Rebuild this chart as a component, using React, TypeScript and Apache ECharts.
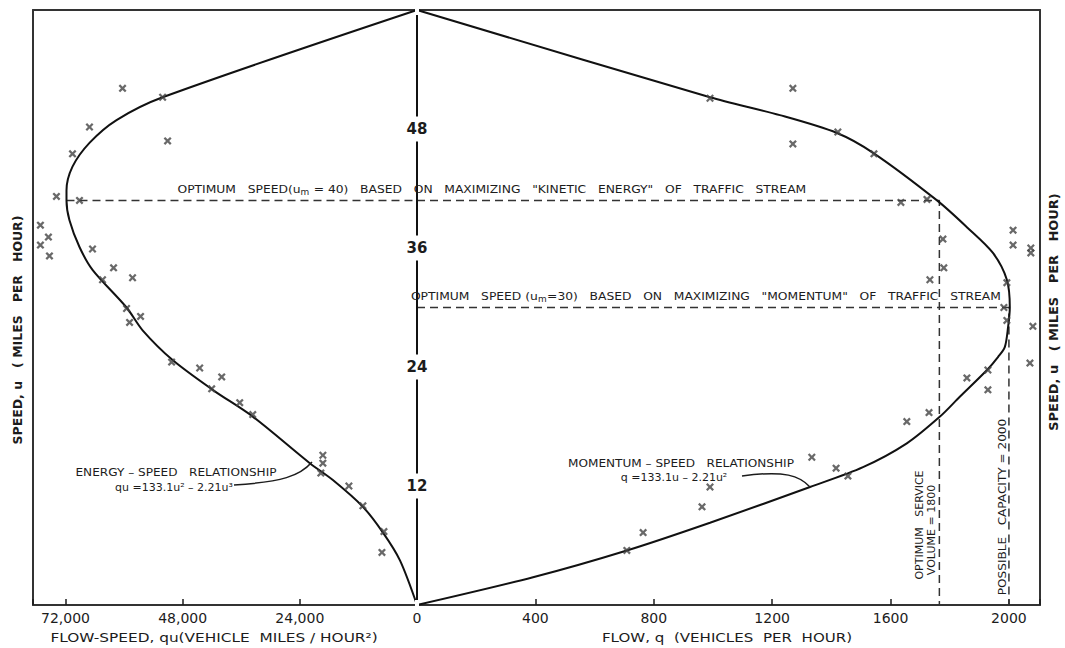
import React, { useEffect, useRef } from "react";
import * as echarts from "echarts";

// ---- data ----
// energy–speed curve: [qu, u]
const energyCurve: [number, number][] = [
  [0, 60.0], [52100, 51.2], [61540, 48.9], [67080, 46.6], [70560, 44.2], [71790, 41.8],
  [71790, 40.8], [71180, 38.8], [69130, 36.1], [66460, 33.8], [59490, 30.0], [56200, 27.7],
  [50050, 24.7], [41850, 21.7], [33640, 19.0], [21950, 14.3], [17230, 12.6], [11080, 9.9],
  [6970, 7.3], [3490, 4.5], [0, 0],
];
// momentum–speed curve: [q, u]
const momentumCurve: [number, number][] = [
  [0, 60.0], [990, 51.2], [1226, 49.4], [1419, 47.6], [1541, 45.6], [1757, 40.8],
  [1858, 38.1], [1946, 35.5], [1993, 32.8], [2003, 30.0], [1997, 28.0], [1986, 26.0],
  [1963, 25.0], [1926, 23.7], [1834, 21.0], [1767, 19.0], [1655, 16.3], [1507, 13.9], [1328, 11.9],
  [990, 8.3], [709, 5.5], [392, 2.8], [0, 0],
];
// observations, flow-speed side: [qu, u]
const energyObs: [number, number][] = [
  [60310, 52.1], [52100, 51.2], [67080, 48.2], [51080, 46.8], [70560, 45.5], [73850, 41.2],
  [69130, 40.8], [77130, 38.3], [75490, 37.1], [77130, 36.3], [75280, 35.2], [66460, 35.9],
  [62150, 34.0], [64410, 32.8], [58260, 33.0], [59490, 29.9], [56620, 29.1], [58870, 28.5],
  [50260, 24.5], [44510, 23.9], [40000, 23.0], [42050, 21.8], [36310, 20.4], [33640, 19.2],
  [19280, 15.1], [19280, 14.3], [19690, 13.3], [13950, 12.0], [11080, 10.0], [6770, 7.4],
  [7180, 5.3],
];
// observations, flow side: [q, u]
const momentumObs: [number, number][] = [
  [1270, 52.1], [990, 51.1], [1270, 46.5], [1422, 47.7], [1544, 45.5], [1635, 40.6],
  [1723, 40.9], [1777, 36.9], [1780, 34.0], [1733, 32.8], [2014, 37.8], [2014, 36.3],
  [2074, 36.0], [2074, 35.5], [1993, 32.5], [1983, 30.0], [1993, 28.7], [2081, 28.1],
  [2071, 24.4], [1929, 23.7], [1858, 22.9], [1929, 21.7], [1730, 19.4], [1655, 18.5],
  [1334, 14.9], [1416, 13.8], [1456, 13.0], [990, 11.9], [963, 9.9], [764, 7.3], [709, 5.5],
];
// optimum lines
const kineticLineLeft: [number, number][] = [[71790, 40.8], [0, 40.8]];
const kineticLineRight: [number, number][] = [[0, 40.8], [1765, 40.8], [1765, 0]];
const momentumLine: [number, number][] = [[0, 30], [2000, 30], [2000, 0]];

const quTicks = [0, 24000, 48000, 72000];
const qTicks = [400, 800, 1200, 1600, 2000];
const uTicks = [12, 24, 36, 48];

const INK = "#1c1c1c";
const FONT = "'DejaVu Sans', sans-serif";
const XMARK = "path://M2,0L5,3L8,0L10,2L7,5L10,8L8,10L5,7L2,10L0,8L3,5L0,2Z";

function txt(text: string, x: number, y: number, size: number, opts: any = {}) {
  return {
    type: "text",
    x,
    y,
    rotation: opts.rotation || 0,
    scaleX: opts.scaleX || 1,
    z: 100,
    style: {
      text,
      fill: INK,
      font: `${opts.weight || "normal"} ${size}px ${FONT}`,
      align: "center",
      verticalAlign: "middle",
      textAlign: "center",
      textVerticalAlign: "middle",
      rich: opts.rich,
    },
  };
}

export default function App() {
  const ref = useRef<HTMLDivElement>(null);
  useEffect(() => {
    if (!ref.current) return;
    const chart = echarts.init(ref.current, null, { renderer: "svg" });
    const lineAxisStyle = { show: true, onZero: false, lineStyle: { color: "#333", width: 2 } };
    const frameX = (gi: number) => ({
      gridIndex: gi, type: "value", position: "top", min: 0, max: 1,
      axisLine: lineAxisStyle, axisTick: { show: false }, axisLabel: { show: false }, splitLine: { show: false },
    });
    const richSub = (size: number) => ({
      a: { fontSize: size, fontFamily: FONT, color: INK, lineHeight: 14 },
      s: { fontSize: size - 3, fontFamily: FONT, color: INK, lineHeight: 14, verticalAlign: "bottom", padding: [5, 0, 0, 0] },
    });
    const dash = { color: "#333", width: 1.5, type: [8, 5] };
    const option: any = {
      animation: false,
      backgroundColor: "#fff",
      grid: [
        { left: 33, top: 10, width: 384, height: 595 },
        { left: 417, top: 10, width: 623, height: 595 },
      ],
      xAxis: [
        {
          gridIndex: 0, type: "value", inverse: true, min: 0, max: 78650, interval: 24000, position: "bottom",
          axisLine: lineAxisStyle,
          axisTick: { show: true, inside: true, length: 6, lineStyle: { color: INK, width: 1.5 } },
          axisLabel: {
            color: INK, fontSize: 14, fontFamily: FONT, margin: 6,
            formatter: (v: number) => (quTicks.includes(v) ? v.toLocaleString("en-US") : ""),
          },
          splitLine: { show: false },
        },
        {
          gridIndex: 1, type: "value", min: 0, max: 2105, interval: 400, position: "bottom",
          axisLine: lineAxisStyle,
          axisTick: { show: true, inside: true, length: 6, lineStyle: { color: INK, width: 1.5 } },
          axisLabel: {
            color: INK, fontSize: 14, fontFamily: FONT, margin: 6,
            formatter: (v: number) => (qTicks.includes(v) ? String(v) : ""),
          },
          splitLine: { show: false },
        },
        frameX(0),
        frameX(1),
      ],
      yAxis: [
        {
          gridIndex: 0, type: "value", min: 0, max: 60, position: "left",
          axisLine: lineAxisStyle, axisTick: { show: false }, axisLabel: { show: false }, splitLine: { show: false },
        },
        {
          gridIndex: 1, type: "value", min: 0, max: 60, interval: 12, position: "left", z: 10,
          axisLine: { show: true, onZero: false, lineStyle: { color: "#111", width: 2 } },
          axisTick: { show: false }, splitLine: { show: false },
          axisLabel: {
            color: INK, fontSize: 15, fontWeight: "bold", fontFamily: FONT, margin: 0, align: "center",
            backgroundColor: "#fff", padding: [5, 2, 5, 2],
            formatter: (v: number) => (uTicks.includes(v) ? String(v) : ""),
          },
        },
        {
          gridIndex: 1, type: "value", min: 0, max: 60, position: "right",
          axisLine: lineAxisStyle, axisTick: { show: false }, axisLabel: { show: false }, splitLine: { show: false },
        },
      ],
      series: [
        {
          type: "line", xAxisIndex: 0, yAxisIndex: 0, data: energyCurve, smooth: 0.3, symbol: "none",
          lineStyle: { color: "#111", width: 2 }, z: 5,
        },
        {
          type: "line", xAxisIndex: 1, yAxisIndex: 1, data: momentumCurve, smooth: 0.3, symbol: "none",
          lineStyle: { color: "#111", width: 2 }, z: 5,
        },
        { type: "line", xAxisIndex: 0, yAxisIndex: 0, data: kineticLineLeft, symbol: "none", lineStyle: dash, z: 3 },
        { type: "line", xAxisIndex: 1, yAxisIndex: 1, data: kineticLineRight, symbol: "none", lineStyle: dash, z: 3 },
        { type: "line", xAxisIndex: 1, yAxisIndex: 1, data: momentumLine, symbol: "none", lineStyle: dash, z: 3 },
        {
          type: "scatter", xAxisIndex: 0, yAxisIndex: 0, data: energyObs, symbol: XMARK, symbolSize: 8,
          itemStyle: { color: "#444" }, z: 6,
        },
        {
          type: "scatter", xAxisIndex: 1, yAxisIndex: 1, data: momentumObs, symbol: XMARK, symbolSize: 8,
          itemStyle: { color: "#444" }, z: 6,
        },
      ],
      graphic: [
        txt("{a|OPTIMUM   SPEED(u}{s|m}{a| = 40)   BASED   ON   MAXIMIZING   \"KINETIC   ENERGY\"   OF   TRAFFIC   STREAM}",
          492, 189, 11, { scaleX: 1.12, rich: richSub(11) }),
        txt("{a|OPTIMUM   SPEED (u}{s|m}{a|=30)   BASED   ON   MAXIMIZING   \"MOMENTUM\"   OF   TRAFFIC   STREAM}",
          706, 296, 11, { scaleX: 1.12, rich: richSub(11) }),
        txt("ENERGY – SPEED   RELATIONSHIP", 176, 472, 11, { scaleX: 1.1 }),
        txt("qu =133.1u² – 2.21u³", 174, 487, 11),
        txt("MOMENTUM – SPEED   RELATIONSHIP", 681, 463, 11, { scaleX: 1.1 }),
        txt("q =133.1u – 2.21u²", 674, 477, 11),
        txt("OPTIMUM   SERVICE", 919, 525, 11, { rotation: Math.PI / 2 }),
        txt("VOLUME = 1800", 931, 530, 11, { rotation: Math.PI / 2 }),
        txt("POSSIBLE   CAPACITY = 2000", 1002, 507, 11, { rotation: Math.PI / 2, scaleX: 1.1 }),
        txt("FLOW-SPEED, qu(VEHICLE  MILES / HOUR²)", 214, 637, 13, { scaleX: 1.18 }),
        txt("FLOW, q  (VEHICLES  PER  HOUR)", 727, 637, 13, { scaleX: 1.16 }),
        txt("SPEED, u   ( MILES   PER   HOUR)", 18, 330, 12, { rotation: Math.PI / 2, weight: "bold", scaleX: 1.04 }),
        txt("SPEED, u   ( MILES   PER   HOUR)", 1054, 312, 12, { rotation: Math.PI / 2, weight: "bold", scaleX: 1.08 }),
        {
          type: "bezierCurve", z: 50,
          shape: { x1: 234, y1: 485, cpx1: 282, cpy1: 482, cpx2: 300, cpy2: 476, x2: 312, y2: 462 },
          style: { stroke: INK, lineWidth: 1.5, fill: "none" },
        },
        {
          type: "bezierCurve", z: 50,
          shape: { x1: 742, y1: 476, cpx1: 785, cpy1: 470, cpx2: 800, cpy2: 476, x2: 810, y2: 487 },
          style: { stroke: INK, lineWidth: 1.5, fill: "none" },
        },
      ],
    };
    chart.setOption(option);
    return () => chart.dispose();
  }, []);
  return (
    <div
      ref={ref}
      style={{ position: "fixed", left: 0, top: 0, width: 1065, height: 648, background: "#fff" }}
    />
  );
}
